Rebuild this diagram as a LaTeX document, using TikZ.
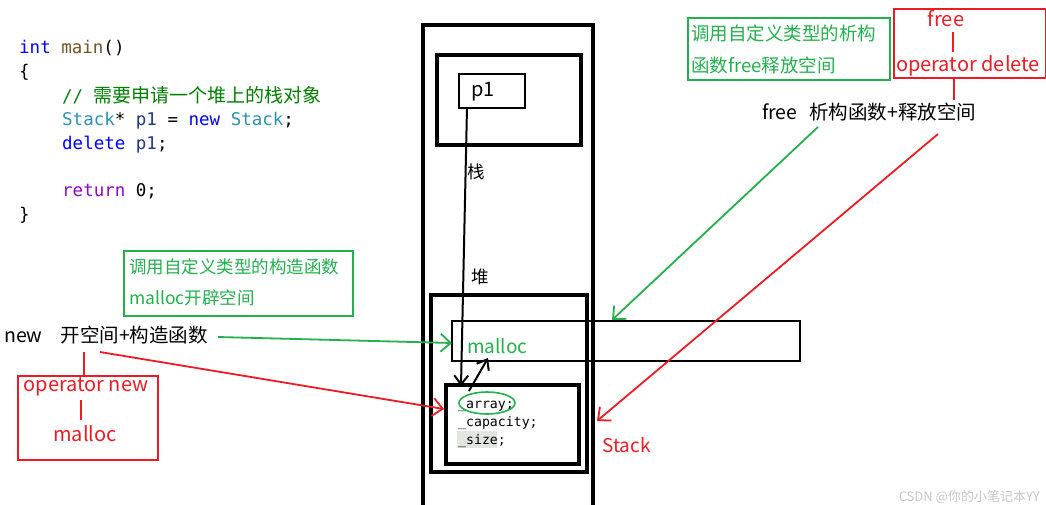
\documentclass[tikz,border=0pt]{standalone}
\usepackage{fontspec}
\setmainfont{Noto Sans CJK SC}
\setmonofont{DejaVu Sans Mono}
\newfontfamily\cjk{Noto Sans CJK SC}
\usetikzlibrary{arrows.meta,shapes.geometric}
\definecolor{pgreen}{RGB}{34,177,76}
\definecolor{pred}{RGB}{237,28,36}
\definecolor{kw}{RGB}{0,0,255}
\definecolor{fn}{RGB}{116,83,31}
\definecolor{cmt}{RGB}{0,128,0}
\definecolor{ty}{RGB}{43,145,175}
\definecolor{var}{RGB}{31,55,127}
\definecolor{ret}{RGB}{143,8,196}
\definecolor{hl}{RGB}{226,230,222}
\begin{document}
\begin{tikzpicture}[x=1pt,y=-1pt,
  frame/.style={draw=black,line width=4pt},
  thinbox/.style={draw=black,line width=2pt},
  gbox/.style={draw=pgreen,line width=2pt,anchor=north west,inner sep=0pt},
  rbox/.style={draw=pred,line width=2pt,anchor=north west,inner sep=0pt},
  code/.style={anchor=base west,inner sep=0pt,font=\ttfamily\fontsize{17.5}{20}\selectfont},
  smallcode/.style={anchor=base west,inner sep=0pt,font=\ttfamily\fontsize{13.2}{14}\selectfont},
  lbl/.style={inner sep=0pt,font=\fontsize{17.5}{20}\selectfont},
  biglbl/.style={inner sep=0pt,font=\fontsize{19.5}{22}\selectfont},
  latlbl/.style={inner sep=0pt,font=\fontsize{20}{22}\selectfont},
  garrow/.style={draw=pgreen,line width=1.8pt,-{Straight Barb[length=10pt,width=18pt,line width=1.8pt]}},
  rarrow/.style={draw=pred,line width=1.8pt,-{Straight Barb[length=10pt,width=18pt,line width=1.8pt]}},
  barrow/.style={draw=black,line width=2pt,-{Straight Barb[length=9pt,width=14pt,line width=2pt]}},
  rline/.style={draw=pred,line width=2pt},
]
\useasboundingbox (0,0) rectangle (1046,504);
\fill[white] (0,0) rectangle (1046,504);

% ---- code ----
\node[code] (c1) at (19,53) {\textcolor{kw}{int} \textcolor{fn}{main}()};
\node[code] (c2) at (19,77) {\{};
\node[code] (c3) at (62,102) {\textcolor{cmt}{// {\cjk\fontsize{19}{20}\selectfont 需要申请一个堆上的栈对象}}};
\node[code] (c4) at (62,125) {\textcolor{ty}{Stack}* \textcolor{var}{p1} = \textcolor{kw}{new} \textcolor{ty}{Stack};};
\node[code] (c5) at (62,149) {\textcolor{kw}{delete} \textcolor{var}{p1};};
\node[code] (c6) at (62,196) {\textcolor{ret}{return} 0;};
\node[code] (c7) at (19,220) {\}};

% ---- memory frames ----
\draw[frame] (423,25) rectangle (593,530);
\draw[frame] (437,55) rectangle (581,145);
\node[thinbox,anchor=north west,minimum width=66,minimum height=34,inner sep=0pt] (p1box) at (458,73) {};
\node[latlbl,anchor=west] (p1txt) at (471,92) {p1};
\node[lbl] (zhan) at (476,172) {栈};
\node[lbl] (dui) at (480,277) {堆};
\draw[line width=3.5pt] (431,295) rectangle (587,472);
\node[thinbox,anchor=north west,minimum width=348,minimum height=40,inner sep=0pt] (mallocbox) at (451,320) {};
\node[latlbl,text=pgreen,anchor=west,font=\fontsize{19}{22}\selectfont] (malloctxt) at (467,346) {malloc};
\node[frame,anchor=north west,minimum width=133,minimum height=79,inner sep=0pt] (objbox) at (444,383) {};
\fill[hl] (457,431) rectangle (497,448);
\node[smallcode] (f1) at (458,408) {\_array;};
\node[smallcode] (f2) at (458,426) {\_capacity;};
\node[smallcode] (f3) at (458,444) {\_size;};
\node[ellipse,draw=pgreen,line width=1.6pt,minimum width=56,minimum height=22,inner sep=0pt] (arrayov) at (487,403) {};

% black arrows
\coordinate (p1out) at (467,107);
\coordinate (objin) at (461,386);
\draw[barrow] (p1out) -- (objin);
\coordinate (arrout) at (469,391);
\coordinate (mallocin) at (488,358);
\draw[barrow] (arrout) -- (mallocin);

% ---- left annotations ----
\node[biglbl,anchor=west] (newlbl) at (4,335) {new\hspace{18pt}开空间+构造函数};
\node[gbox,minimum width=229,minimum height=65] (gbl) at (123,250) {};
\node[lbl,anchor=west,text=pgreen] (gbl1) at (129,267) {调用自定义类型的构造函数};
\node[lbl,anchor=west,text=pgreen] (gbl2) at (129,298) {malloc开辟空间};
\node[rbox,minimum width=140,minimum height=84] (rbl) at (17,375) {};
\node[latlbl,text=pred] (opnew) at (86,387) {operator new};
\node[latlbl,text=pred] (mall2) at (85,434) {malloc};
\draw[rline] (81,400) -- (81,420);
\coordinate (kaibot) at (84,352);
\draw[rline] (kaibot) -- (kaibot |- rbl.north);
\coordinate (newgout) at (218,337);
\coordinate (mallocw) at (452,343);
\draw[garrow] (newgout) -- (mallocw);
\coordinate (newrout) at (100,352);
\coordinate (objw) at (444,409);
\draw[rarrow] (newrout) -- (objw);

% ---- right annotations ----
\node[gbox,minimum width=202,minimum height=62] (gbr) at (687,17) {};
\node[lbl,anchor=west,text=pgreen,font=\fontsize{18.5}{20}\selectfont] (gbr1) at (691,33) {调用自定义类型的析构};
\node[lbl,anchor=west,text=pgreen,font=\fontsize{18.5}{20}\selectfont] (gbr2) at (691,65) {函数free释放空间};
\node[rbox,minimum width=152,minimum height=69] (rbr) at (893,8) {};
\node[latlbl,text=pred] (freer) at (946,19) {free};
\node[latlbl,text=pred] (opdel) at (968,66) {operator delete};
\draw[rline] (953,32) -- (953,52);
\node[biglbl,anchor=west] (freelbl) at (762,112) {free\hspace{12pt}析构函数+释放空间};
\coordinate (freetop) at (954,100);
\draw[rline] (rbr.south -| freetop) -- (freetop);
\coordinate (freegout) at (818,127);
\coordinate (mallocn) at (612,320);
\draw[garrow] (freegout) -- (mallocn);
\coordinate (freerout) at (938,134);
\coordinate (stackin) at (597,421);
\draw[rarrow] (freerout) -- (stackin);
\node[latlbl,text=pred,anchor=west,font=\fontsize{19}{22}\selectfont] (stacklbl) at (602,445) {Stack};

% watermark
\node[anchor=base east,inner sep=0pt,text=black!22,font=\fontsize{13}{15}\selectfont] (wm) at (1040,501) {CSDN @你的小笔记本YY};
\end{tikzpicture}
\end{document}
